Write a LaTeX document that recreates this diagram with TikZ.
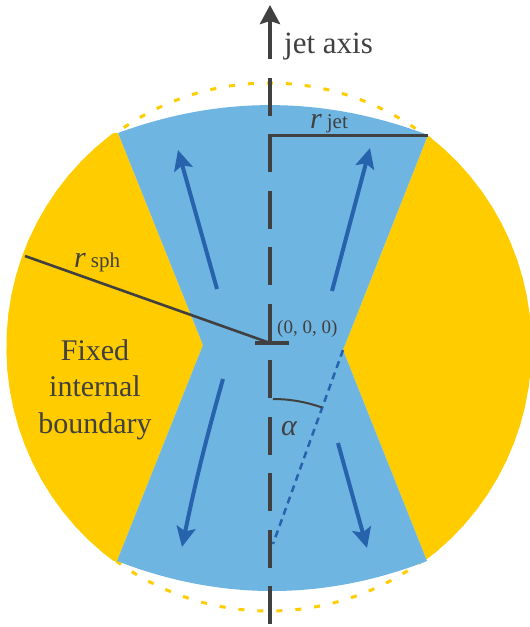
\documentclass[tikz,border=0pt]{standalone}
\usepackage{fontspec}
\setmainfont{Liberation Serif}
\usetikzlibrary{arrows.meta}
\definecolor{skyb}{HTML}{6FB5E1}
\definecolor{gold}{HTML}{FFCC00}
\definecolor{arrb}{HTML}{2763AD}
\definecolor{dgray}{HTML}{404040}
\tikzset{
  flow/.style={arrb, line width=4pt, -{Stealth[length=20pt,width=19pt,inset=4pt]}},
  guide/.style={dgray, line width=2.6pt},
  lbl/.style={inner sep=0pt, text=dgray},
}
\begin{document}
\begin{tikzpicture}[x=1pt,y=-1pt]
\useasboundingbox (0,0) rectangle (530,627);
% key points
\coordinate (C) at (269,347);
\coordinate (TL) at (118,133);
\coordinate (TR) at (428,135);
\coordinate (BL) at (117,561);
\coordinate (BR) at (427,561);
\coordinate (WL) at (203,345);
\coordinate (WR) at (343,350);
\coordinate (D) at (273,544);
% dotted sphere outline
\draw[gold, line width=3pt, dash pattern=on 6pt off 13pt] (C) ellipse [x radius=261, y radius=264];
% yellow side regions
\begin{scope}
  \clip (TL) -- (WL) -- (BL) -- (-20,561) -- (-20,133) -- cycle;
  \fill[gold] (C) ellipse [x radius=262.5, y radius=265.5];
\end{scope}
\begin{scope}
  \clip (TR) -- (WR) -- (BR) -- (560,561) -- (560,135) -- cycle;
  \fill[gold] (C) ellipse [x radius=262.5, y radius=265.5];
\end{scope}
% blue jet region
\fill[skyb] (TL) .. controls (221,95) and (325,96) .. (TR) -- (WR) -- (BR)
  .. controls (324,601) and (220,601) .. (BL) -- (WL) -- cycle;
% flow arrows
\coordinate (a1s) at (217,289); \coordinate (a1e) at (178,150);
\coordinate (a2s) at (332,291); \coordinate (a2e) at (370,148);
\coordinate (a3s) at (223,379); \coordinate (a3e) at (182,547);
\coordinate (a4s) at (338,443); \coordinate (a4e) at (367,548);
\draw[flow] (a1s) -- (a1e);
\draw[flow] (a2s) -- (a2e);
\draw[flow] (a3s) to[bend right=2] (a3e);
\draw[flow] (a4s) -- (a4e);
% dashed cone line and angle
\draw[arrb, line width=2.5pt, dash pattern=on 7pt off 5pt] (WR) -- (D);
\draw[dgray, line width=2pt] (D) ++(0,-145) arc[start angle=-90, end angle=-70.2, radius=145];
% jet axis
\coordinate (axb) at (270,624);
\coordinate (axt) at (270,5);
\draw[dgray, line width=3.8pt, dash pattern=on 38pt off 18.5pt,
  -{Stealth[length=19pt,width=20pt,inset=3pt]}] (axb) -- (axt);
% origin tick
\coordinate (o1) at (255,343); \coordinate (o2) at (289,343);
\draw[dgray, line width=3.5pt] (o1) -- (o2);
% radii
\coordinate (rs) at (25,256); \coordinate (O) at (270,343);
\draw[guide] (rs) -- (O);
\coordinate (j1) at (269,135);
\draw[dgray, line width=3pt] (j1) -- (TR);
% labels
\node[lbl, anchor=base west] (tja) at (284,53) {\fontsize{31}{36}\selectfont jet axis};
\node[lbl, anchor=base west] (trj) at (310,128) {\fontsize{30}{36}\selectfont\itshape r\,\upshape\fontsize{21}{24}\selectfont jet};
\node[lbl, anchor=base west] (trs) at (74,267) {\fontsize{30}{36}\selectfont\itshape r\,\upshape\fontsize{21}{24}\selectfont sph};
\node[lbl, anchor=base west] (t0) at (277,333) {\fontsize{19}{22}\selectfont (0, 0, 0)};
\node[lbl, anchor=base west] (tal) at (281,435) {\fontsize{30}{36}\selectfont\itshape α};
\node[lbl, align=center, anchor=base, font=\fontsize{30}{36.5}\selectfont] (tfix) at (95,433) {Fixed\\internal\\boundary};
\end{tikzpicture}
\end{document}
